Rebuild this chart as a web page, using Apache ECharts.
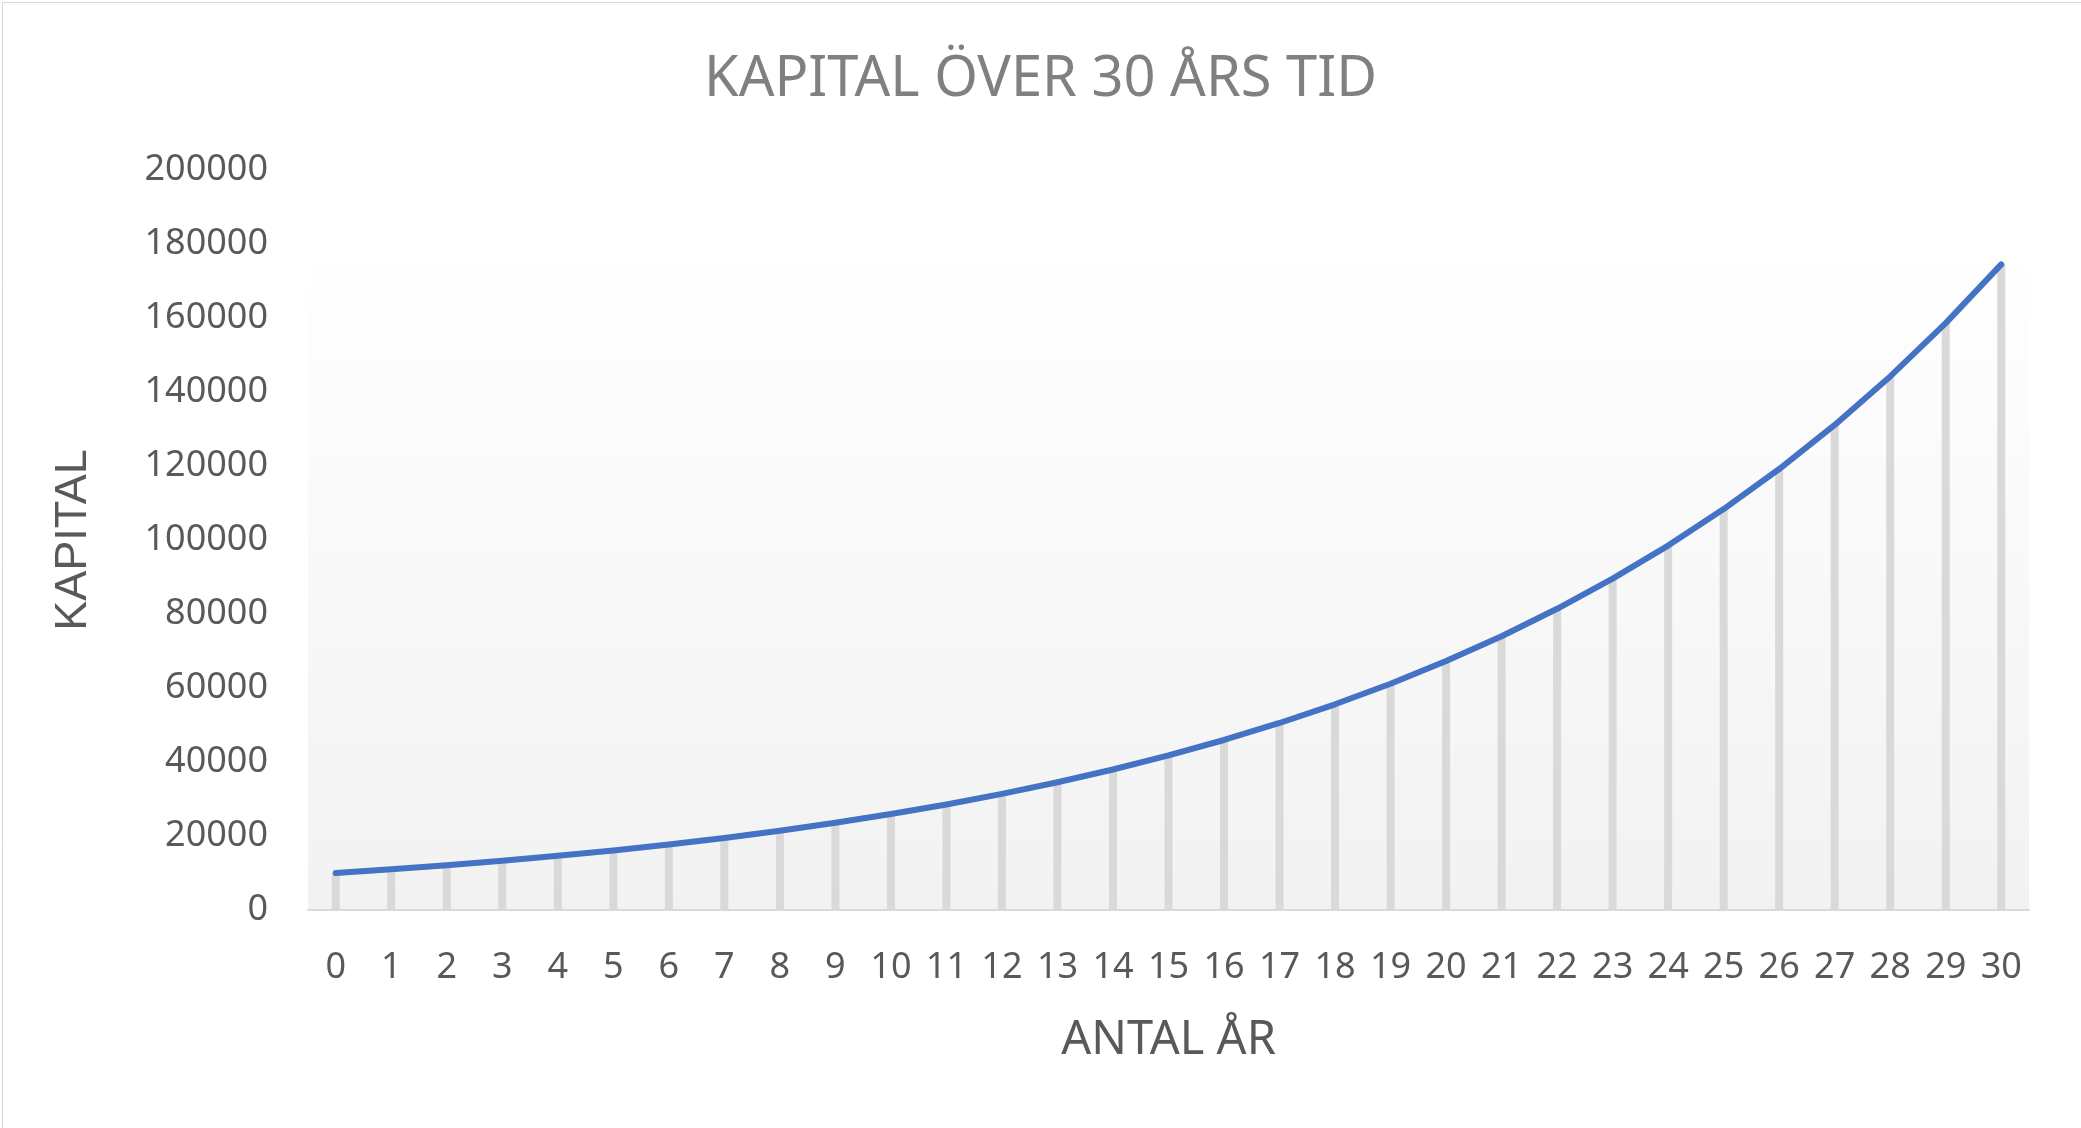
<!DOCTYPE html>
<html>
<head>
<meta charset="utf-8">
<script src="https://cdn.jsdelivr.net/npm/echarts@6/dist/echarts.min.js"></script>
<style>
html,body{margin:0;padding:0;background:#fff;}
#chart{width:2081px;height:1128px;}
</style>
</head>
<body>
<div id="chart"></div>
<script>
// Data
const years = ['0','1','2','3','4','5','6','7','8','9','10','11','12','13','14','15','16','17','18','19','20','21','22','23','24','25','26','27','28','29','30'];
const kapital = [10000, 11000, 12100, 13310, 14641, 16105, 17716, 19487, 21436, 23579,
  25937, 28531, 31384, 34523, 37975, 41772, 45950, 50545, 55599, 61159,
  67275, 74002, 81403, 89543, 98497, 108347, 119182, 131100, 144210, 158631, 174494];
const yTicks = { min: 0, max: 200000, interval: 20000 };

const chart = echarts.init(document.getElementById('chart'));
const option = {
  backgroundColor: '#ffffff',
  animation: false,
  title: {
    text: 'KAPITAL ÖVER 30 ÅRS TID',
    left: 'center',
    top: 47,
    textStyle: { fontFamily: 'Noto Sans', fontSize: 56, fontWeight: 'normal', color: '#808080' }
  },
  graphic: [{
    type: 'rect',
    left: 0, top: 0,
    shape: { x: 0.5, y: 0.5, width: 2080, height: 1127 },
    style: { fill: 'none', stroke: '#d9d9d9', lineWidth: 1 },
    silent: true
  }],
  grid: {
    left: 308, right: 52, top: 170, bottom: 218,
    show: true,
    borderWidth: 0,
    backgroundColor: new echarts.graphic.LinearGradient(0, 0, 0, 1, [
      { offset: 0, color: '#ffffff' },
      { offset: 0.1, color: '#ffffff' },
      { offset: 1, color: '#f2f2f2' }
    ])
  },
  xAxis: {
    type: 'category',
    data: years,
    boundaryGap: true,
    name: 'ANTAL ÅR',
    nameLocation: 'middle',
    nameGap: 107,
    nameTextStyle: { fontFamily: 'Noto Sans', fontSize: 47, color: '#595959' },
    axisLine: { lineStyle: { color: '#d9d9d9', width: 2 } },
    axisTick: { show: false },
    axisLabel: { fontFamily: 'Noto Sans', fontSize: 36, color: '#595959', margin: 40, interval: 0 },
    splitLine: { show: false }
  },
  yAxis: {
    type: 'value',
    min: yTicks.min, max: yTicks.max, interval: yTicks.interval,
    name: 'KAPITAL',
    nameLocation: 'middle',
    nameGap: 212,
    nameTextStyle: { fontFamily: 'Liberation Sans', fontSize: 45, color: '#595959' },
    axisLine: { show: false },
    axisTick: { show: false },
    axisLabel: {
      fontFamily: 'Noto Sans', fontSize: 36, color: '#595959', margin: 40,
      padding: [5, 0, 0, 0],
      formatter: function (v) { return String(v); }
    },
    splitLine: { show: false }
  },
  series: [
    {
      type: 'bar',
      data: kapital,
      barWidth: 8,
      itemStyle: { color: '#d9d9d9' },
      z: 1,
      silent: true
    },
    {
      type: 'line',
      data: kapital,
      showSymbol: false,
      symbol: 'none',
      smooth: false,
      lineStyle: { color: '#4472c4', width: 6, cap: 'round', join: 'round' },
      z: 3
    }
  ]
};
chart.setOption(option);
</script>
</body>
</html>
